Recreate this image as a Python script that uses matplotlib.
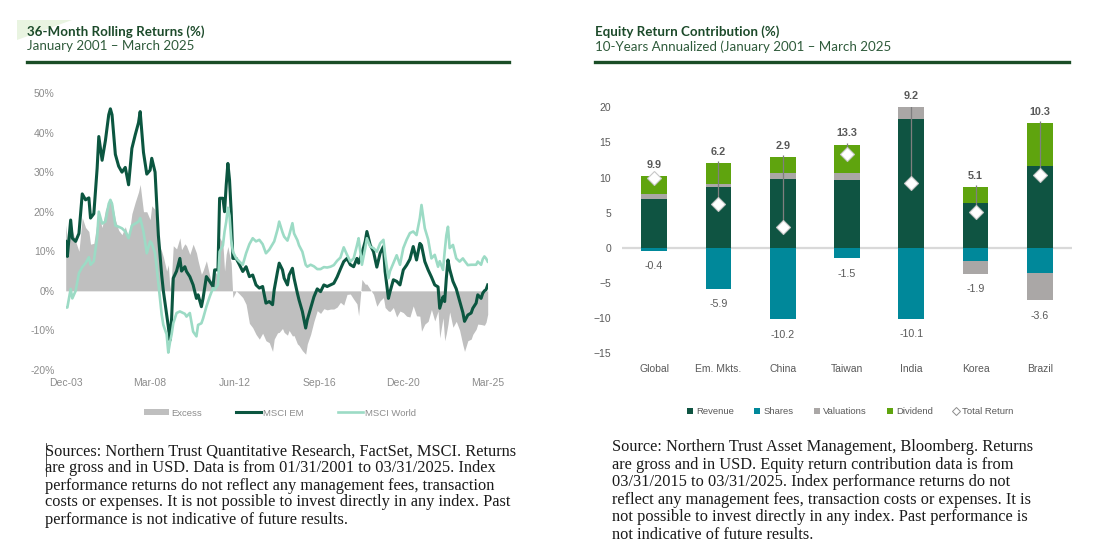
import numpy as np
import matplotlib
matplotlib.use('Agg')
import matplotlib.pyplot as plt
from matplotlib.patches import Polygon, Patch
from matplotlib.lines import Line2D

# ---------------- left panel: 36-month rolling returns (%)
# months counted from Dec-2003
month_idx = [0, 1, 3, 4, 6, 8, 10, 12, 14, 15, 17, 19, 20, 22, 24, 26, 27, 28, 30, 32,
             34, 36, 38, 40, 42, 44, 45, 47, 49, 51, 52, 54, 56, 58, 59, 61, 62, 63, 64, 65,
             67, 69, 70, 72, 73, 75, 77, 79, 80, 82, 83, 85, 87, 89, 90, 92, 93, 95, 96, 97,
             98, 99, 100, 101, 103, 105, 107, 109, 111, 113, 115, 117, 119, 121, 123, 125, 126, 128, 129, 131,
             132, 134, 135, 137, 138, 140, 141, 143, 145, 146, 148, 150, 152, 154, 156, 158, 160, 162, 164, 166,
             168, 170, 172, 174, 176, 177, 179, 181, 182, 184, 186, 188, 190, 192, 193, 195, 196, 198, 200, 202,
             204, 206, 208, 210, 212, 214, 215, 217, 219, 221, 223, 225, 226, 228, 229, 230, 231, 232, 234, 236,
             238, 240, 241, 243, 245, 246, 248, 249, 251, 252, 253, 254, 255]
msci_em = [12.5, 8.7, 17.9, 13.3, 12.5, 14.5, 24.5, 23.0, 23.5, 18.4, 19.5, 31.0, 39.0, 33.0, 38.0, 44.5, 46.0, 44.5, 34.5, 31.5,
           30.0, 31.2, 26.8, 36.0, 39.4, 42.5, 45.3, 35.0, 29.5, 30.5, 33.5, 30.0, 14.0, 4.0, 0.0, -6.0, -9.0, -12.5, -6.9, 3.2,
           5.0, 8.2, 5.0, 6.1, 4.9, 3.6, 1.5, -1.9, -1.0, -4.0, -1.9, 3.6, 2.4, 1.1, 5.3, 5.3, 23.4, 23.4, 20.0, 26.8,
           32.2, 28.0, 20.0, 8.2, 8.2, 6.6, 4.9, 6.1, 3.6, 4.0, 1.5, 0.7, 1.1, -3.1, -2.7, -3.5, 0.3, 4.9, 7.0, 5.3,
           3.2, 1.5, 4.0, 5.7, 3.2, -0.6, -2.3, -5.2, -9.4, -7.3, -4.4, -1.5, 0.5, -0.2, 1.5, 1.1, 1.5, 1.9, 3.5, 5.5,
           7.4, 8.2, 6.6, 6.1, 8.2, 7.0, 9.5, 12.5, 15.0, 11.6, 9.9, 6.0, 9.5, 11.2, 4.9, -1.9, -0.2, 2.8, 2.4, 1.5,
           5.3, 6.5, 8.0, 11.2, 7.8, 12.0, 11.5, 7.4, 5.3, 3.5, 1.5, 1.0, -4.4, -1.5, -2.7, 3.2, 7.8, 5.5, 2.4, 0.5,
           -2.5, -5.5, -7.7, -6.1, -5.6, -4.4, -3.1, -1.0, -1.9, -0.6, 0.0, 0.3, 1.5]
msci_world = [-4.2, -4.2, 0.5, -1.9, 0.0, 4.5, 6.0, 7.0, 8.5, 6.6, 7.5, 13.5, 20.0, 17.0, 17.5, 22.0, 23.0, 22.0, 16.5, 16.2,
              15.8, 15.0, 13.3, 16.5, 17.0, 17.5, 18.4, 15.0, 9.5, 12.5, 12.0, 9.5, 1.9, -6.0, -8.6, -11.0, -15.6, -13.0, -11.0, -8.2,
              -5.6, -5.2, -5.4, -5.8, -6.5, -5.6, -10.3, -11.5, -8.6, -8.2, -7.0, -4.0, -1.5, 0.7, 0.3, 1.5, 9.9, 11.5, 15.0, 17.5,
              21.0, 19.0, 13.0, 9.9, 8.2, 7.4, 6.6, 9.5, 11.8, 13.3, 12.5, 12.9, 11.8, 9.5, 10.4, 11.8, 12.5, 15.5, 17.5, 14.8,
              13.7, 12.7, 14.0, 17.1, 14.5, 12.8, 11.5, 9.9, 6.6, 6.1, 6.6, 6.2, 5.5, 5.5, 6.0, 5.9, 6.1, 6.5, 7.6, 8.4,
              11.0, 9.1, 7.4, 8.2, 11.5, 13.3, 6.6, 10.8, 13.3, 11.2, 10.8, 9.9, 12.0, 12.9, 9.1, 3.2, 5.0, 7.0, 9.0, 6.6,
              10.8, 12.9, 14.6, 15.0, 14.1, 18.4, 21.7, 15.8, 13.0, 8.2, 9.1, 6.1, 7.5, 5.3, 9.9, 14.0, 16.2, 10.8, 11.6, 8.2,
              7.4, 8.2, 7.6, 6.5, 6.6, 6.6, 6.6, 7.4, 6.6, 8.0, 8.7, 8.2, 7.4]
x_tick_labels = ['Dec-03', 'Mar-08', 'Jun-12', 'Sep-16', 'Dec-20', 'Mar-25']
x_tick_months = [0, 51, 102, 153, 204, 255]

# ---------------- right panel: equity return contribution (%)
countries = ['Global', 'Em. Mkts.', 'China', 'Taiwan', 'India', 'Korea', 'Brazil']
revenue = [6.9, 8.7, 9.75, 9.6, 18.3, 6.4, 11.65]
shares = [-0.4, -5.9, -10.2, -1.5, -10.1, -1.9, -3.6]
valuations = [0.7, 0.35, 0.85, 1.0, 1.7, -1.8, -3.9]
dividend = [2.6, 3.0, 2.35, 4.1, 0.0, 2.3, 6.1]
total_return = [9.9, 6.2, 2.9, 13.3, 9.2, 5.1, 10.3]

W, H = 1093, 552


def fx(px):
    return px / W


def fy(py):
    return 1 - py / H


fig = plt.figure(figsize=(W / 100, H / 100), dpi=100)
fig.patch.set_facecolor('white')

title_font = ['Lato', 'DejaVu Sans']
chart_font = ['Liberation Sans', 'DejaVu Sans']
note_font = ['Liberation Serif', 'DejaVu Serif']

# small decoration at top-left
fig.patches.append(Polygon([[fx(17), fy(20)], [fx(72), fy(20)], [fx(17), fy(40)]],
                           closed=True, transform=fig.transFigure,
                           facecolor='#e9f4e1', edgecolor='none'))

# headers
for x0, x1, t, s in [(27, 509, '36-Month Rolling Returns (%)', 'January 2001 \u2013 March 2025'),
                     (595, 1069, 'Equity Return Contribution (%)',
                      '10-Years Annualized (January 2001 \u2013 March 2025')]:
    fig.text(fx(x0), fy(31.5), t, family=title_font, fontsize=9.6, fontweight='bold',
             color='#1c4a2a', va='center', ha='left')
    fig.text(fx(x0), fy(46.5), s, family=title_font, fontsize=9.6,
             color='#2f5b3b', va='center', ha='left')
    fig.add_artist(Line2D([fx(x0), fx(x1)], [fy(62), fy(62)], transform=fig.transFigure,
                          color='#1a4d26', lw=2.4))

# ---------------- left chart
ax1 = fig.add_axes([fx(65.7), fy(370), fx(487.7) - fx(65.7), fy(93) - fy(370)])
m = np.array(month_idx)
em = np.array(msci_em)
world = np.array(msci_world)
excess = em - world
ax1.fill_between(m, 0, excess, color='#bfbfbf', lw=0)
ax1.plot(m, em, color='#0b5640', lw=2.2, solid_joinstyle='round')
ax1.plot(m, world, color='#9cdbc5', lw=1.9, solid_joinstyle='round')
ax1.set_xlim(0, 255)
ax1.set_ylim(-20, 50)
ax1.set_yticks(range(-20, 60, 10))
ax1.set_yticklabels([f'{v}%' for v in range(-20, 60, 10)])
ax1.set_xticks(x_tick_months)
ax1.set_xticklabels(x_tick_labels)
for s in ax1.spines.values():
    s.set_visible(False)
ax1.tick_params(length=0, labelsize=7.5, colors='#8c8c8c')
ax1.tick_params(axis='y', pad=8)
ax1.tick_params(axis='x', pad=6)
for lab in ax1.get_xticklabels() + ax1.get_yticklabels():
    lab.set_family(chart_font)

h1 = [Patch(facecolor='#bfbfbf', edgecolor='none'),
      Line2D([], [], color='#0b5640', lw=2.2),
      Line2D([], [], color='#9cdbc5', lw=1.9)]
leg1 = fig.legend(h1, ['Excess', 'MSCI EM', 'MSCI World'], loc='center',
                  bbox_to_anchor=(fx(280), fy(413)), ncol=3, frameon=False,
                  prop={'family': chart_font, 'size': 6.8}, handlelength=2.7,
                  handleheight=0.5, handletextpad=0.2, columnspacing=3.6)
for t in leg1.get_texts():
    t.set_color('#8c8c8c')

# ---------------- right chart
ax2 = fig.add_axes([fx(622), fy(353), fx(1072) - fx(622), fy(107.3) - fy(353)])
x = np.arange(len(countries))
pos_base = np.zeros(len(countries))
neg_base = np.zeros(len(countries))
series = [(revenue, '#0f5442', 'Revenue'), (shares, '#00889a', 'Shares'),
          (valuations, '#aaa7a6', 'Valuations'), (dividend, '#5fa40e', 'Dividend')]
for vals, col, name in series:
    v = np.array(vals, dtype=float)
    bottom = np.where(v >= 0, pos_base, neg_base)
    ax2.bar(x, v, 0.4, bottom=bottom, color=col, zorder=2, linewidth=0)
    pos_base = pos_base + np.where(v > 0, v, 0)
    neg_base = neg_base + np.where(v < 0, v, 0)

ax2.axhline(0, color='#d9d9d9', lw=1.6, zorder=1)
tr = np.array(total_return)
ax2.vlines(x, tr, pos_base + 0.25, color='#7f7f7f', lw=0.9, zorder=3)
ax2.plot(x, tr, linestyle='none', marker='D', markersize=7, markerfacecolor='white',
         markeredgecolor='#c8c8c8', markeredgewidth=0.8, zorder=4)
for i in range(len(countries)):
    ax2.annotate(f'{total_return[i]:.1f}', (x[i], pos_base[i]), xytext=(0, 8),
                 textcoords='offset points', ha='center', va='center',
                 fontsize=7.8, fontweight='bold', color='#595959', family=chart_font,
                 annotation_clip=False)
    ax2.annotate(f'{shares[i]:.1f}', (x[i], neg_base[i]), xytext=(0, -11),
                 textcoords='offset points', ha='center', va='center',
                 fontsize=7.7, color='#595959', family=chart_font, annotation_clip=False)

ax2.set_xlim(-0.5, len(countries) - 0.5)
ax2.set_ylim(-15, 20)
ax2.set_yticks(range(-15, 25, 5))
ax2.set_xticks(x)
ax2.set_xticklabels(countries)
for s in ax2.spines.values():
    s.set_visible(False)
ax2.tick_params(length=0, labelsize=7.5, colors='#595959')
ax2.tick_params(axis='y', pad=8)
ax2.tick_params(axis='x', pad=8)
for lab in ax2.get_xticklabels() + ax2.get_yticklabels():
    lab.set_family(chart_font)

h2 = [Line2D([], [], linestyle='none', marker='s', markersize=4.3, color=c, markeredgewidth=0)
      for _, c, _ in series]
h2.append(Line2D([], [], linestyle='none', marker='D', markersize=3.6,
                 markerfacecolor='white', markeredgecolor='#8c8c8c', markeredgewidth=0.7))
leg2 = fig.legend(h2, [n for _, _, n in series] + ['Total Return'], loc='center',
                  bbox_to_anchor=(fx(850), fy(412)), ncol=5, frameon=False,
                  prop={'family': chart_font, 'size': 6.8}, handlelength=0.8,
                  handletextpad=0.3, columnspacing=2.0)
for t in leg2.get_texts():
    t.set_color('#595959')

# ---------------- source notes
left_note = ['Sources: Northern Trust Quantitative Research, FactSet, MSCI. Returns',
             'are gross and in USD. Data is from 01/31/2001 to 03/31/2025. Index',
             'performance returns do not reflect any management fees, transaction',
             'costs or expenses. It is not possible to invest directly in any index. Past',
             'performance is not indicative of future results.']
right_note = ['Source: Northern Trust Asset Management, Bloomberg. Returns',
              'are gross and in USD. Equity return contribution data is from',
              '03/31/2015 to 03/31/2025. Index performance returns do not',
              'reflect any management fees, transaction costs or expenses. It is',
              'not possible to invest directly in any index. Past performance is',
              'not indicative of future results.']
for i, line in enumerate(left_note):
    fig.text(fx(45), fy(451.5 + 17 * i), line, family=note_font, fontsize=11.8,
             color='#1a1a1a', va='center', ha='left')
for i, line in enumerate(right_note):
    fig.text(fx(612), fy(447 + 17.6 * i), line, family=note_font, fontsize=11.8,
             color='#1a1a1a', va='center', ha='left')
fig.add_artist(Line2D([fx(45.5), fx(45.5)], [fy(443), fy(476)], transform=fig.transFigure,
                      color='#333333', lw=0.6))

fig.savefig('out.png', dpi=100, facecolor='white')
